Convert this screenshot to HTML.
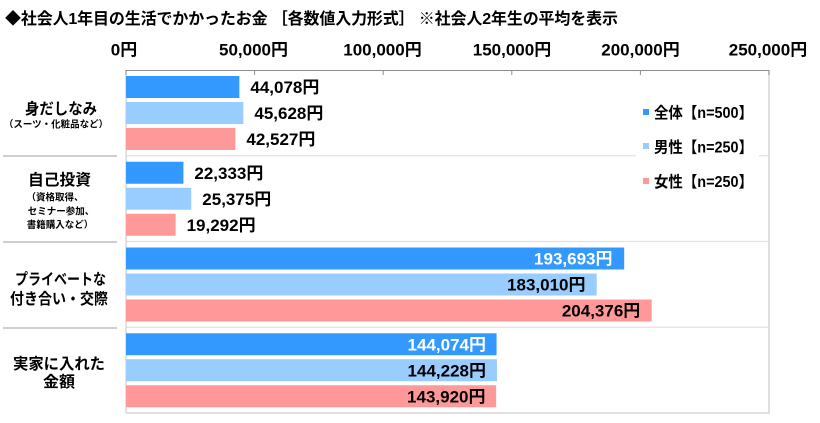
<!DOCTYPE html>
<html>
<head>
<meta charset="utf-8">
<style>
html,body{margin:0;padding:0;background:#fff;}
body{width:820px;height:423px;overflow:hidden;}
svg{display:block;}
text{font-family:"Liberation Sans","Noto Sans CJK JP",sans-serif;font-weight:bold;fill:#000;}
</style>
</head>
<body>
<svg width="820" height="423" viewBox="0 0 820 423" xmlns="http://www.w3.org/2000/svg">
  <rect width="820" height="423" fill="#fff"/>
  <!-- title -->
  <text x="5" y="24" font-size="16" textLength="613" lengthAdjust="spacing">◆社会人1年目の生活でかかったお金 ［各数値入力形式］ ※社会人2年生の平均を表示</text>

  <!-- tick labels -->
  <g font-size="17" text-anchor="middle">
    <text x="124" y="55.5">0円</text>
    <text x="253.5" y="55.5">50,000円</text>
    <text x="382.5" y="55.5">100,000円</text>
    <text x="512" y="55.5">150,000円</text>
    <text x="640.5" y="55.5">200,000円</text>
    <text x="768" y="55.5">250,000円</text>
  </g>

  <!-- grid lines -->
  <g stroke="#e2e2e2" stroke-width="1.2">
    <line x1="126" y1="155.75" x2="769" y2="155.75"/>
    <line x1="126" y1="241.5" x2="769" y2="241.5"/>
    <line x1="126" y1="327.25" x2="769" y2="327.25"/>
  </g>
  <line x1="126" y1="413" x2="769.5" y2="413" stroke="#d6d6d6" stroke-width="1.5"/>
  <line x1="769" y1="70" x2="769" y2="413" stroke="#d6d6d6" stroke-width="1.5"/>
  <line x1="126" y1="70" x2="126" y2="413" stroke="#d0d0d0" stroke-width="1.2"/>
  <!-- top axis -->
  <line x1="126" y1="70.5" x2="769" y2="70.5" stroke="#8c8c8c" stroke-width="1"/>
  <g stroke="#8c8c8c" stroke-width="1">
    <line x1="126" y1="70" x2="126" y2="75"/>
    <line x1="254.6" y1="70" x2="254.6" y2="75"/>
    <line x1="383.2" y1="70" x2="383.2" y2="75"/>
    <line x1="511.8" y1="70" x2="511.8" y2="75"/>
    <line x1="640.4" y1="70" x2="640.4" y2="75"/>
    <line x1="769" y1="70" x2="769" y2="75"/>
  </g>

  <!-- left separators -->
  <g stroke="#bdbdbd" stroke-width="1.5">
    <line x1="3" y1="156" x2="117" y2="156"/>
    <line x1="3" y1="242" x2="117" y2="242"/>
    <line x1="3" y1="328" x2="117" y2="328"/>
  </g>

  <!-- category labels -->
  <g font-size="15.5" text-anchor="middle">
    <text x="61" y="114" textLength="72" lengthAdjust="spacingAndGlyphs">身だしなみ</text>
    <text x="59.5" y="185" textLength="63" lengthAdjust="spacingAndGlyphs">自己投資</text>
    <text x="60.5" y="284.5" textLength="91" lengthAdjust="spacingAndGlyphs">プライベートな</text>
    <text x="59" y="304" textLength="98" lengthAdjust="spacingAndGlyphs">付き合い・交際</text>
    <text x="59" y="369" textLength="92" lengthAdjust="spacingAndGlyphs">実家に入れた</text>
    <text x="59" y="387" textLength="32" lengthAdjust="spacingAndGlyphs">金額</text>
  </g>
  <g font-size="9.5" text-anchor="middle">
    <text x="56" y="127.5">（スーツ・化粧品など）</text>
    <text x="55" y="200.5">（資格取得、</text>
    <text x="61" y="214.5">セミナー参加、</text>
    <text x="60" y="228">書籍購入など）</text>
  </g>

  <!-- bars -->
  <g>
    <rect x="126" y="76" width="113.37" height="22" fill="#3399ff"/>
    <rect x="126" y="102" width="117.36" height="22" fill="#99ccff"/>
    <rect x="126" y="128" width="109.38" height="22" fill="#ff9999"/>

    <rect x="126" y="161.75" width="57.44" height="22" fill="#3399ff"/>
    <rect x="126" y="187.75" width="65.26" height="22" fill="#99ccff"/>
    <rect x="126" y="213.75" width="49.62" height="22" fill="#ff9999"/>

    <rect x="126" y="247.5" width="498.18" height="22" fill="#3399ff"/>
    <rect x="126" y="273.5" width="470.70" height="22" fill="#99ccff"/>
    <rect x="126" y="299.5" width="525.66" height="22" fill="#ff9999"/>

    <rect x="126" y="333.25" width="370.56" height="22" fill="#3399ff"/>
    <rect x="126" y="359.25" width="370.95" height="22" fill="#99ccff"/>
    <rect x="126" y="385.25" width="370.16" height="22" fill="#ff9999"/>
  </g>

  <!-- value labels -->
  <g font-size="17">
    <text x="250.4" y="93">44,078円</text>
    <text x="254.4" y="119">45,628円</text>
    <text x="246.4" y="145">42,527円</text>

    <text x="194.4" y="178.75">22,333円</text>
    <text x="202.3" y="204.75">25,375円</text>
    <text x="186.6" y="230.75">19,292円</text>
  </g>
  <g font-size="17" text-anchor="end">
    <text x="612.5" y="264.5" style="fill:#fff">193,693円</text>
    <text x="585.5" y="290.5">183,010円</text>
    <text x="640.3" y="316.5">204,376円</text>

    <text x="486" y="350.25" style="fill:#fff">144,074円</text>
    <text x="486" y="376.25">144,228円</text>
    <text x="485.5" y="402.25">143,920円</text>
  </g>

  <!-- legend -->
  <rect x="636" y="95" width="123" height="105" fill="#fff"/>
  <rect x="643" y="109" width="6" height="6" fill="#3399ff"/>
  <rect x="643" y="143" width="6" height="6" fill="#99ccff"/>
  <rect x="643" y="178" width="6" height="6" fill="#ff9999"/>
  <g font-size="15.5">
    <text x="654" y="118" textLength="99" lengthAdjust="spacingAndGlyphs">全体【n=500】</text>
    <text x="654" y="152.5" textLength="99" lengthAdjust="spacingAndGlyphs">男性【n=250】</text>
    <text x="654" y="187" textLength="99" lengthAdjust="spacingAndGlyphs">女性【n=250】</text>
  </g>
</svg>
</body>
</html>
